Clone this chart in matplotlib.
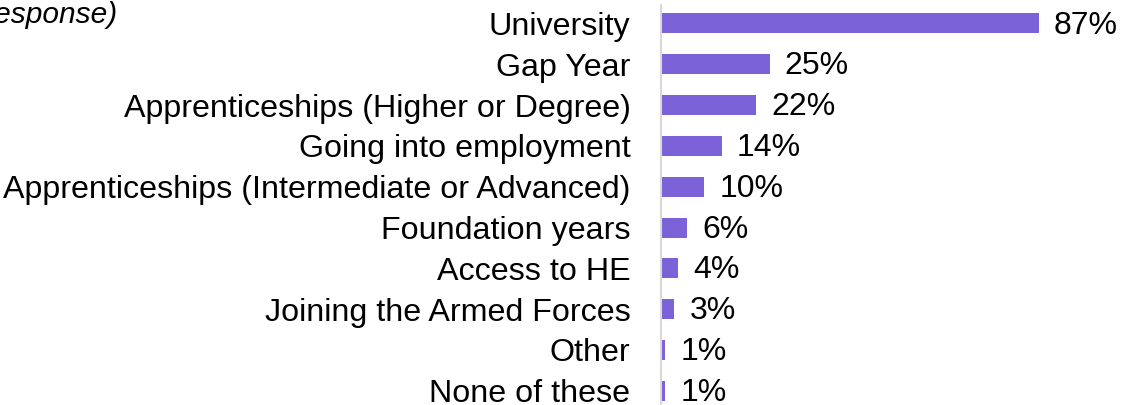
import matplotlib
matplotlib.use("Agg")
import matplotlib.pyplot as plt

# data
categories = [
    "University",
    "Gap Year",
    "Apprenticeships (Higher or Degree)",
    "Going into employment",
    "Apprenticeships (Intermediate or Advanced)",
    "Foundation years",
    "Access to HE",
    "Joining the Armed Forces",
    "Other",
    "None of these",
]
values = [87, 25, 22, 14, 10, 6, 4, 3, 1, 1]
value_labels = ["87%", "25%", "22%", "14%", "10%", "6%", "4%", "3%", "1%", "1%"]

BAR = "#7B62D8"
plt.rcParams["font.family"] = ["Liberation Sans", "DejaVu Sans"]

W, H = 1125, 405
fig = plt.figure(figsize=(W / 100, H / 100), dpi=100)
ax = fig.add_axes([661 / W, 0, 434 / W, 400 / H])

ypos = list(range(len(categories)))
ax.barh(ypos, values, height=0.49, color=BAR)
for y, v, lab in zip(ypos, values, value_labels):
    ax.annotate(lab, (v, y), xytext=(11, -1.5), textcoords="offset points",
                ha="left", va="center", fontsize=23, color="black")

ax.set_xlim(0, 100)
ax.set_ylim(9.35, -0.453)
ax.set_yticks(ypos)
ax.set_yticklabels(categories, fontsize=23.2)
ax.tick_params(axis="y", length=0, pad=22)
ax.set_xticks([])
for side in ["top", "right", "bottom"]:
    ax.spines[side].set_visible(False)
ax.spines["left"].set_color("#d9d9d9")
ax.spines["left"].set_linewidth(1.5)

# subtitle, cut off at the left edge as in the source
fig.text(117 / W, 1 - 23 / H, "(Multiple response)", ha="right", va="baseline",
         fontsize=21.5, style="italic")

fig.savefig("out.png", dpi=100)
plt.close(fig)
